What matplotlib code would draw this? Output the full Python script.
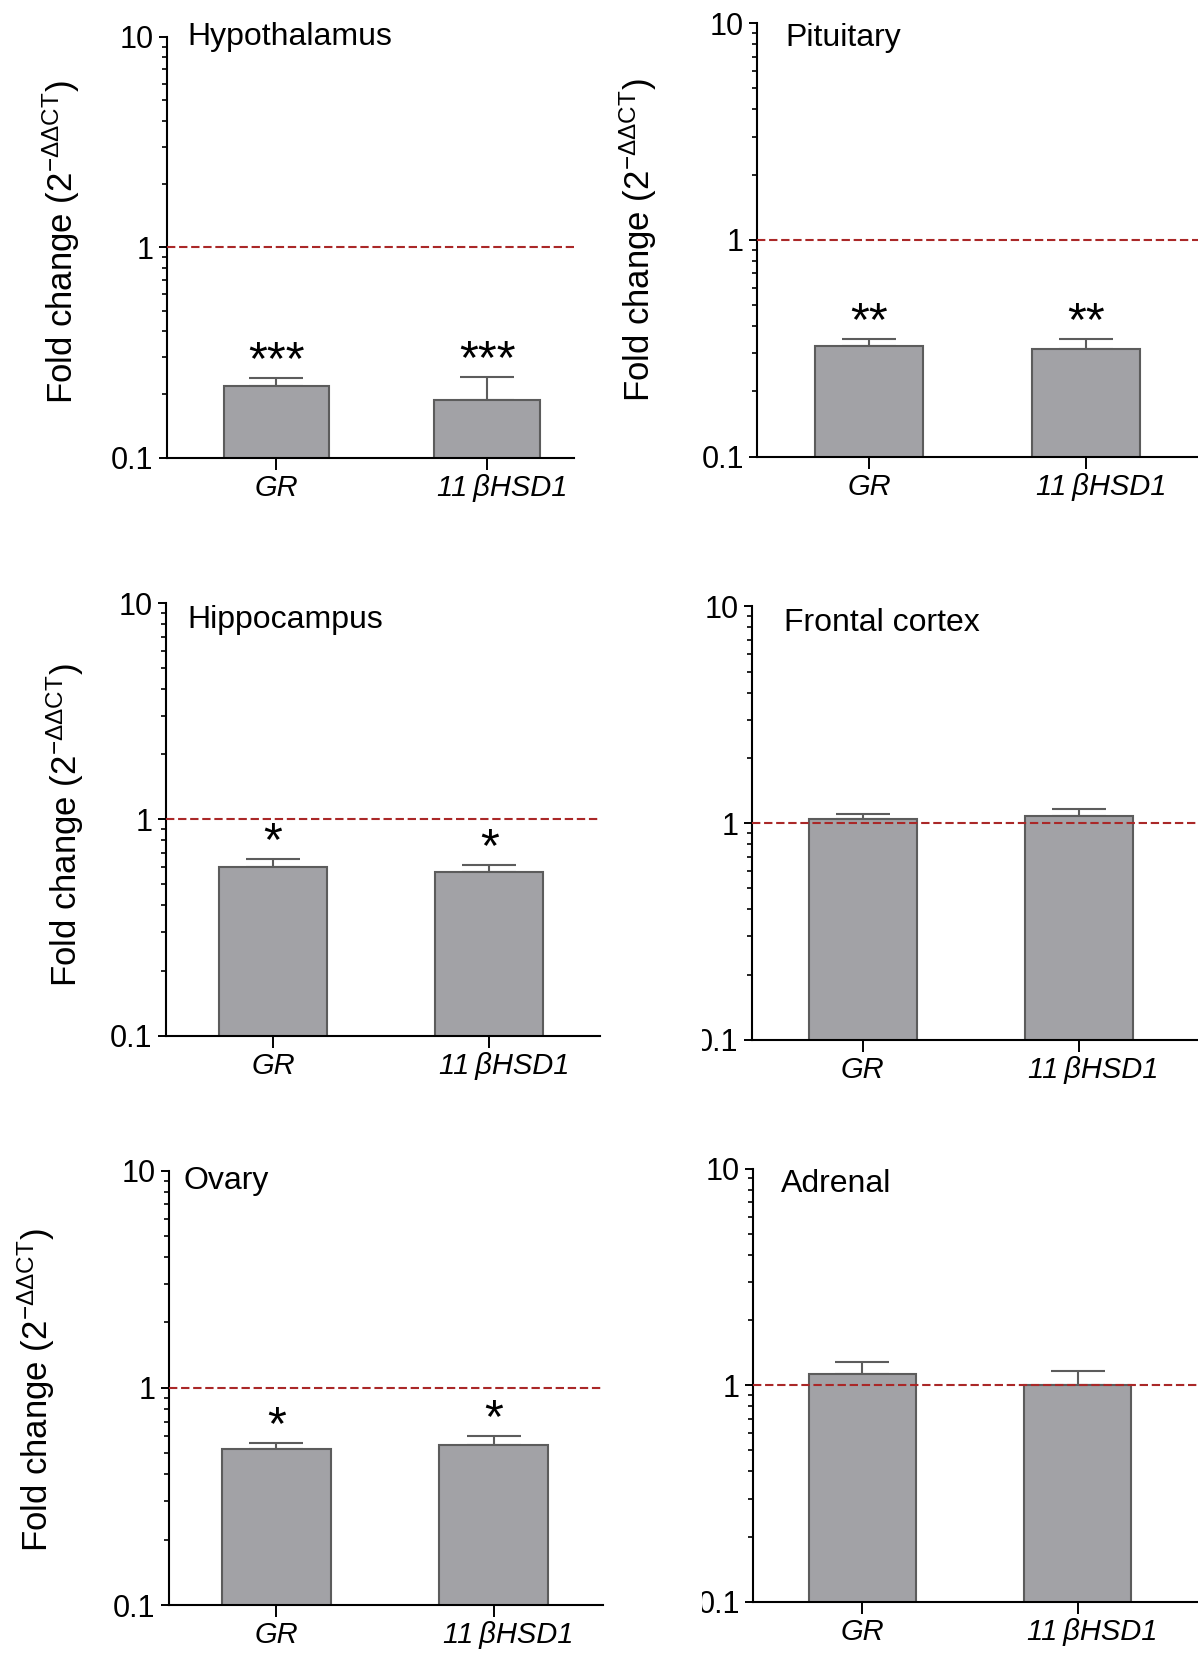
import numpy as np
import matplotlib
matplotlib.use('Agg')
import matplotlib.pyplot as plt
from matplotlib.patches import Rectangle
from matplotlib.transforms import ScaledTranslation
from matplotlib.ticker import LogLocator, NullFormatter

plt.rcParams['font.family'] = ['Liberation Sans', 'DejaVu Sans']
plt.rcParams['mathtext.fontset'] = 'custom'
plt.rcParams['mathtext.rm'] = 'Liberation Sans'
plt.rcParams['mathtext.it'] = 'Liberation Sans:italic'

# data (fold change, 2^-ddCT)
genes = ['GR', '11\u2009βHSD1']
tissues = ['Hypothalamus', 'Pituitary', 'Hippocampus', 'Frontal cortex', 'Ovary', 'Adrenal']

hypothalamus_mean = [0.219, 0.189]
hypothalamus_sem = [0.019, 0.054]
pituitary_mean = [0.325, 0.315]
pituitary_sem = [0.023, 0.033]
hippocampus_mean = [0.603, 0.570]
hippocampus_sem = [0.050, 0.047]
frontal_mean = [1.04, 1.076]
frontal_sem = [0.06, 0.084]
ovary_mean = [0.523, 0.547]
ovary_sem = [0.036, 0.051]
adrenal_mean = [1.125, 1.005]
adrenal_sem = [0.16, 0.155]

hypothalamus_sig = ['***', '***']
pituitary_sig = ['**', '**']
hippocampus_sig = ['*', '*']
frontal_sig = ['', '']
ovary_sig = ['*', '*']
adrenal_sig = ['', '']

means = [hypothalamus_mean, pituitary_mean, hippocampus_mean, frontal_mean, ovary_mean, adrenal_mean]
sems = [hypothalamus_sem, pituitary_sem, hippocampus_sem, frontal_sem, ovary_sem, adrenal_sem]
sigs = [hypothalamus_sig, pituitary_sig, hippocampus_sig, frontal_sig, ovary_sig, adrenal_sig]

W, H = 1198, 1654
fig = plt.figure(figsize=(W/100, H/100), dpi=100)

# panel boxes in pixels: left, right, top, bottom, xmin, xmax
boxes = [
    (166.6, 573.7, 36.9, 457.7, -0.52, 1.41),
    (757.2, 1198, 23.2, 456.6, -0.515, 1.515),
    (165.6, 600, 603.2, 1035.6, -0.497, 1.512),
    (751.9, 1198, 606.4, 1039.8, -0.512, 1.55),
    (168.7, 603.2, 1170.6, 1605.1, -0.495, 1.504),
    (753, 1198, 1168.5, 1601.9, -0.509, 1.56),
]
title_pos = [(0.052, 1.0), (0.065, 0.966), (0.051, 0.962), (0.073, 0.962), (0.034, 0.977), (0.062, 0.965)]
ylab_pos = {0: (61, 242), 1: (638, 240), 2: (65, 825), 4: (36, 1390)}

bar_color = '#a2a2a6'
edge_color = '#5c5c5c'
red = '#aa2828'

for i in range(6):
    L, R, T, B, xl, xr = boxes[i]
    ax = fig.add_axes([L/W, 1-B/H, (R-L)/W, (B-T)/H])
    x = np.arange(len(genes))
    ax.set_yscale('log')
    ax.errorbar(x, means[i], yerr=[np.zeros(2), sems[i]], fmt='none',
                ecolor=edge_color, elinewidth=1.5, capsize=19.5, capthick=1.5, zorder=1)
    ax.bar(x, means[i], width=0.5, color=bar_color, edgecolor=edge_color, linewidth=1.5, zorder=2)
    ax.axhline(1, color=red, lw=1.5, dashes=(4, 1.8), zorder=3)
    for j in range(len(genes)):
        if sigs[i][j]:
            ax.annotate(sigs[i][j], (x[j], means[i][j] + sems[i][j]), xytext=(0, -6),
                        textcoords='offset pixels', ha='center', va='bottom', fontsize=35)
    ax.set_ylim(0.1, 10)
    ax.set_xlim(xl, xr)
    ax.set_yticks([0.1, 1, 10], ['0.1', '1', '10'])
    ax.yaxis.set_minor_locator(LogLocator(base=10, subs=np.arange(2, 10)))
    ax.yaxis.set_minor_formatter(NullFormatter())
    ax.set_xticks(x, genes, fontstyle='italic')
    ax.tick_params(axis='y', which='major', labelsize=22, length=6, width=1.4, pad=3.5)
    ax.tick_params(axis='y', which='minor', length=3.5, width=1.2)
    ax.tick_params(axis='x', labelsize=21, length=8.5, width=1.4, pad=3)
    # second gene label sits a little right of its tick in the original
    lbl = ax.get_xticklabels()[1]
    lbl.set_transform(lbl.get_transform() + ScaledTranslation(10.5/72, 0, fig.dpi_scale_trans))
    for s in ['top', 'right']:
        ax.spines[s].set_visible(False)
    for s in ['left', 'bottom']:
        ax.spines[s].set_linewidth(1.5)
    tx, ty = title_pos[i]
    ax.text(tx, ty, tissues[i], transform=ax.transAxes, ha='left', va='center', fontsize=23)
    if i in ylab_pos:
        px, py = ylab_pos[i]
        fig.text(px/W, 1-py/H, r'Fold change (2$^{-\Delta\Delta \mathrm{CT}}$)', rotation=90,
                 ha='center', va='center', fontsize=25)

# the right-hand panels were cropped through their "0.1" labels
for yc in [1040, 1602]:
    fig.add_artist(Rectangle((680/W, 1-(yc+20)/H), 22/W, 40/H, transform=fig.transFigure,
                             facecolor='white', edgecolor='none', zorder=10))

fig.savefig('out.png', dpi=100)
